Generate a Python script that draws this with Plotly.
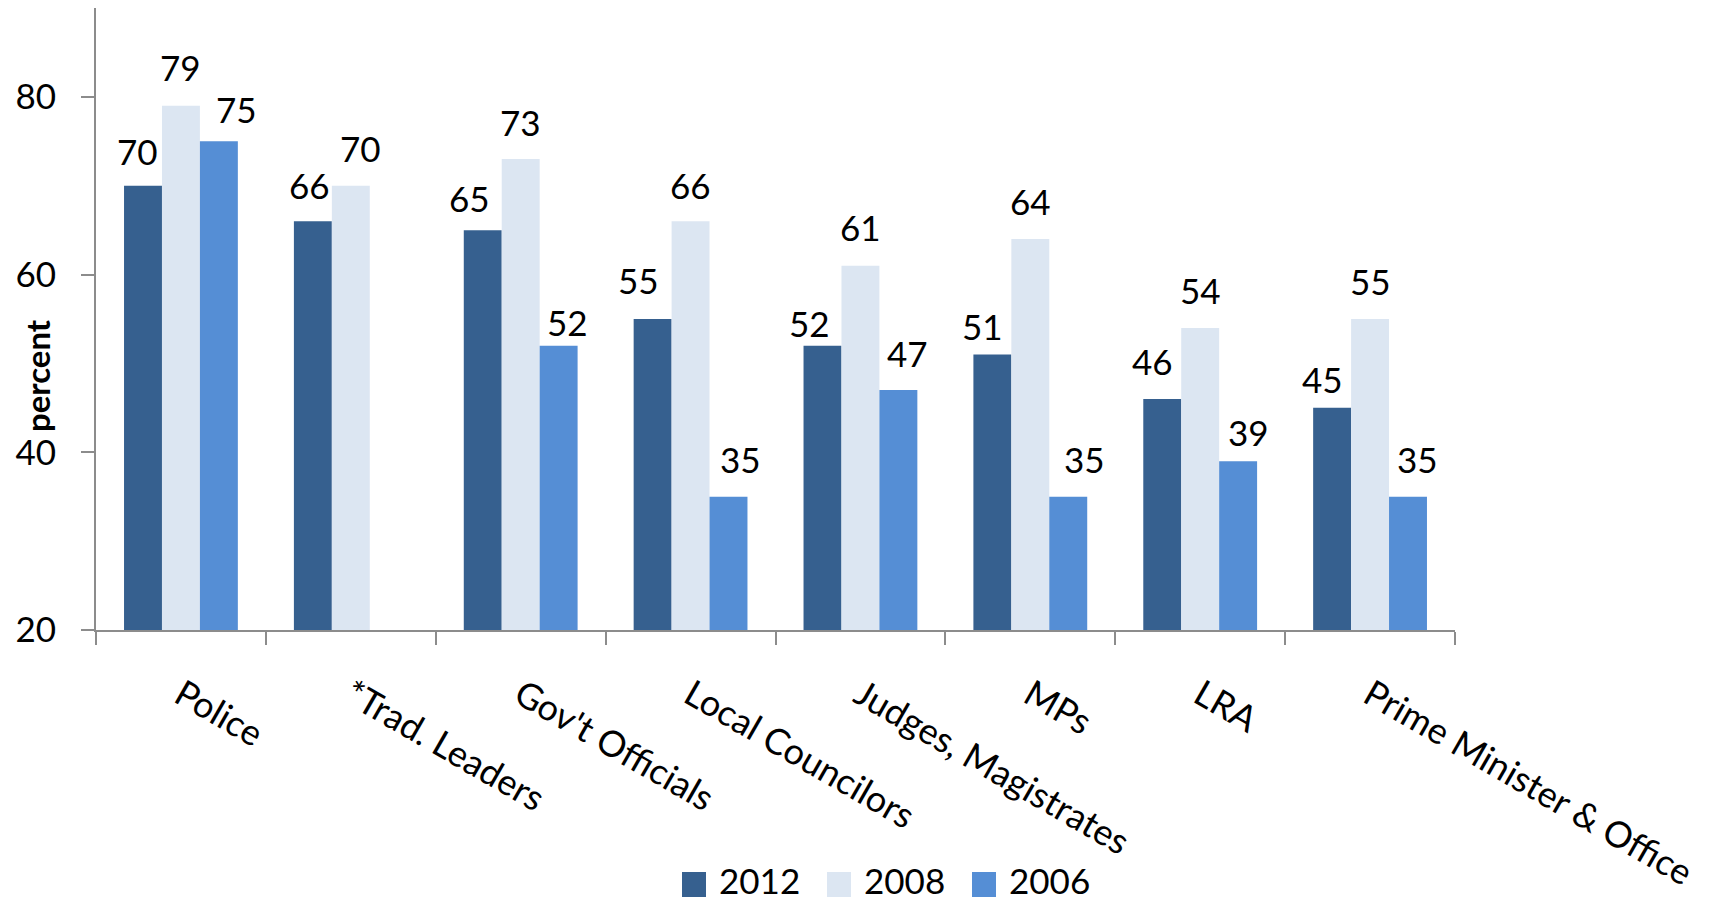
import plotly.graph_objects as go

# Share of respondents (percent) by institution and survey year
categories = ["Police", "*Trad. Leaders", "Gov't Officials", "Local Councilors",
              "Judges, Magistrates", "MPs", "LRA", "Prime Minister & Office"]
years = ["2012", "2008", "2006"]
values_2012 = [70, 66, 65, 55, 52, 51, 46, 45]
values_2008 = [79, 70, 73, 66, 61, 64, 54, 55]
values_2006 = [75, None, 52, 35, 47, 35, 39, 35]
colors = ["#36608f", "#dce6f2", "#558ed5"]
y_ticks = [20, 40, 60, 80]

# Value-label nudges in pixels (horizontal offset, baseline height above bar top)
label_dx = [
    [-6, -3, -13, -14, -13, -10, -10, -10],
    [0, 10, 0, 0, 0, 0, 0, 0],
    [18, 0, 9, 12, 9, 16, 10, 10],
]
label_gap = [
    [20, 22, 18, 24, 8, 14, 23, 14],
    [24, 23, 23, 22, 24, 23, 23, 23],
    [18, 0, 9, 23, 23, 23, 15, 23],
]

FONT = "Lato"
W, H = 1709, 901
ML, MR, MT, MB = 96, 254, 8, 271
PW, PH = W - ML - MR, H - MT - MB
BARGAP = 0.33
LABEL_SIZE = 35
DESCENT = 0.213 * LABEL_SIZE + 1


def px_x(x):
    return (x - ML) / PW


def px_y(y):
    return (H - MB - y) / PH


series = [values_2012, values_2008, values_2006]
fig = go.Figure()
for name, vals, col in zip(years, series, colors):
    fig.add_trace(go.Bar(
        x=categories, y=vals, name=name,
        marker=dict(color=col, line=dict(width=0)),
        showlegend=False,
    ))

# Data labels above each bar
slot = PW / len(categories)
bar_w = slot * (1 - BARGAP) / len(series)
for si, vals in enumerate(series):
    offset = (si - (len(series) - 1) / 2) * bar_w
    for ci, v in enumerate(vals):
        if v is None:
            continue
        fig.add_annotation(
            x=categories[ci], y=v, xref="x", yref="y",
            text=str(v), showarrow=False,
            xanchor="center", yanchor="bottom",
            xshift=offset + label_dx[si][ci],
            yshift=label_gap[si][ci] - DESCENT,
            font=dict(family=FONT, size=LABEL_SIZE, color="black"),
        )

# Legend: coloured squares with year labels along the bottom
legend_x = [682, 827, 972]
for lx, name, col in zip(legend_x, years, colors):
    fig.add_shape(type="rect", xref="paper", yref="paper",
                  x0=px_x(lx), x1=px_x(lx + 24), y0=px_y(897), y1=px_y(872),
                  fillcolor=col, line=dict(width=0))
    fig.add_annotation(xref="paper", yref="paper", x=px_x(lx + 35), y=px_y(880),
                       xanchor="left", yanchor="middle", showarrow=False,
                       text=name, font=dict(family=FONT, size=35, color="black"))

fig.add_annotation(xref="paper", yref="paper", x=px_x(37), y=px_y(376),
                   xanchor="center", yanchor="middle", showarrow=False, textangle=-90,
                   text="<b>percent</b>", font=dict(family=FONT, size=33, color="black"))

fig.update_layout(
    width=W, height=H, autosize=False,
    margin=dict(l=ML, r=MR, t=MT, b=MB),
    paper_bgcolor="white", plot_bgcolor="white",
    barmode="group", bargap=BARGAP, bargroupgap=0,
    showlegend=False,
    font=dict(family=FONT, color="black"),
)
fig.update_yaxes(
    range=[20, 90], tickvals=y_ticks, showgrid=False, zeroline=False,
    showline=True, linecolor="#8c8c8c", linewidth=2,
    ticks="outside", ticklen=13, tickwidth=2, tickcolor="#8c8c8c",
    ticklabelstandoff=18,
    tickfont=dict(family=FONT, size=35, color="black"),
)
fig.update_xaxes(
    showgrid=False, zeroline=False,
    showline=True, linecolor="#8c8c8c", linewidth=2,
    ticks="outside", ticklen=13, tickwidth=2, tickcolor="#8c8c8c",
    tickson="boundaries", tickangle=30, ticklabelstandoff=28,
    tickfont=dict(family=FONT, size=36, color="black"),
)

fig.write_html("out.html")
